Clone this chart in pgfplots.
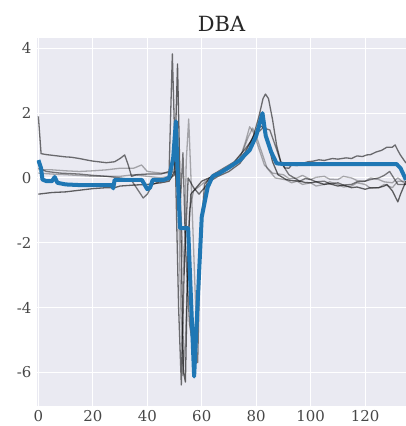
\documentclass[border=0pt]{standalone}
\usepackage{pgfplots}
\pgfplotsset{compat=1.18}
\usepackage{fontspec}
\setmainfont{DejaVu Serif}
\definecolor{bgc}{HTML}{EAEAF2}
\definecolor{dbablue}{HTML}{1F77B4}
\definecolor{txt}{HTML}{262626}
\begin{document}
\begin{tikzpicture}
\begin{axis}[
  name=ax,
  scale only axis, width=369bp, height=368bp,
  xmin=-0.5, xmax=135, ymin=-7.04, ymax=4.32,
  axis background/.style={fill=bgc},
  axis line style={draw=none},
  grid=major, major grid style={white, line width=1.1bp},
  xtick={0,20,...,120}, ytick={-6,-4,...,4},
  major tick length=0pt,
  tick label style={font=\fontsize{15}{17}\selectfont, text=txt!85},
  /pgf/number format/assume math mode=true,
  xticklabel style={yshift=-0.5bp},
  yticklabel style={xshift=-2bp},
  title={DBA}, title style={font=\fontsize{21}{24}\selectfont, text=txt, yshift=-3bp},
  clip=true,
]
% grey series
\addplot[black, opacity=0.55, line width=1.3bp, line join=round] coordinates {
(0,1.9)(1,0.75)(3,0.72)(5,0.7)(7,0.68)(10,0.65)(12,0.64)(15,0.6)(18,0.55)(20,0.52)(23,0.49)(25,0.47)(28,0.5)(30,0.6)(31.7,0.71)(33,0.4)(34.2,0.05)(36,0.1)(40,0.12)(45,0.12)(48,0.2)(49.2,3.83)(50.3,0.5)(51.5,-4)(52.5,-6.39)(53.5,-3)(55,0.0)(57,-0.3)(59,-0.5)(61,-0.3)(63,-0.1)(66,0.05)(70,0.2)(74,0.45)(77,0.8)(79,1.3)(81,1.9)(82.5,2.45)(83.4,2.59)(84.5,2.45)(86,1.8)(87.5,1.0)(89,0.5)(90.5,0.31)(92,0.3)(93,0.4)(95,0.38)(97,0.45)(99,0.5)(101,0.52)(103,0.56)(105,0.54)(108,0.6)(110,0.58)(113,0.62)(115,0.6)(117,0.68)(119,0.66)(120.6,0.71)(122,0.72)(124,0.8)(126,0.85)(128,0.95)(130,0.95)(131,1.02)(132,0.85)(133,0.7)(135,0.46)
};
\addplot[black, opacity=0.6, line width=1.3bp, line join=round] coordinates {
(0,-0.5)(5,-0.45)(10,-0.43)(15,-0.38)(20,-0.33)(25,-0.3)(28,-0.3)(30,-0.25)(35,-0.22)(40,-0.2)(45,-0.15)(48,-0.1)(50,0.2)(51.1,3.52)(52,0.0)(53.3,-6.0)(54,-6.3)(55,-2.0)(56,-0.5)(58,-0.3)(60,-0.1)(64,0.05)(68,0.2)(72,0.4)(76,0.8)(79,1.3)(81,1.55)(82,1.6)(83,1.5)(84,1.2)(86,0.5)(88,0.1)(91,-0.05)(93,-0.08)(96,-0.1)(98,-0.14)(100,-0.15)(102,-0.12)(105,-0.2)(107,-0.18)(110,-0.25)(112,-0.22)(115,-0.3)(117,-0.28)(120,-0.35)(122,-0.3)(125,-0.3)(127,-0.25)(128,-0.2)(130,-0.4)(132,-0.74)(133,-0.5)(134,-0.3)(135,-0.1)
};
\addplot[black, opacity=0.5, line width=1.3bp, line join=round] coordinates {
(0,0.3)(3,0.2)(8,0.15)(15,0.12)(20,0.08)(25,0.05)(30,0.0)(34,-0.05)(36,-0.3)(38.5,-0.62)(40,-0.5)(42,-0.2)(45,-0.1)(48,-0.05)(50,0.1)(51,0.3)(52,-1.0)(53.1,0.78)(54,-2)(55.5,-4.5)(57.5,-5.6)(58.5,-5.7)(59.5,-2.0)(61,-0.2)(64,0.1)(68,0.3)(72,0.5)(76,0.9)(80,1.35)(82.5,1.55)(85,1.48)(87,1.0)(89,0.5)(92,0.1)(94,0.0)(96,-0.1)(98,-0.02)(100,-0.05)(102,-0.12)(105,-0.1)(107,-0.18)(110,-0.15)(112,-0.22)(115,-0.2)(117,-0.12)(120,-0.1)(122,-0.05)(125,0.0)(127,0.08)(129,0.2)(130.5,0.0)(132,-0.2)(135,-0.2)
};
\addplot[black, opacity=0.3, line width=1.3bp, line join=round] coordinates {
(0,0.25)(5,0.25)(10,0.22)(15,0.2)(20,0.22)(25,0.25)(30,0.3)(35,0.3)(37.9,0.4)(40,0.2)(45,0.15)(48,0.15)(50,0.2)(52,-0.5)(53.5,-3.0)(54.3,0.5)(55.2,1.82)(56.5,-1.0)(58,-4.5)(59,-3)(60,-1.0)(62,-0.1)(66,0.1)(70,0.3)(74,0.6)(76,1.1)(77.6,1.58)(79,1.4)(81,0.9)(83,0.4)(86,0.15)(90,0.1)(92,-0.02)(95,0.0)(97,0.08)(100,-0.05)(102,0.02)(105,0.05)(107,-0.04)(110,-0.05)(112,0.05)(115,0.0)(117,-0.08)(120,-0.1)(122,0.0)(125,-0.05)(127,-0.12)(130,-0.15)(132,0.0)(135,-0.2)
};
\addplot[black, opacity=0.3, line width=1.3bp, line join=round] coordinates {
(0,0.15)(5,0.12)(10,0.1)(20,0.05)(30,0.05)(35,0.1)(40,0.05)(45,0.0)(48,0.05)(50,0.3)(51,1.5)(52,-3.0)(53,-6.1)(54,-5.0)(55.5,-1.0)(57,-0.4)(60,-0.2)(63,0.0)(67,0.2)(71,0.4)(75,0.8)(77,1.25)(78.7,1.54)(80,1.3)(82,0.8)(84,0.3)(87,0.0)(91,-0.06)(93,-0.15)(95,-0.1)(97,-0.2)(100,-0.15)(102,-0.25)(105,-0.2)(107,-0.12)(110,-0.2)(112,-0.28)(115,-0.25)(117,-0.15)(120,-0.2)(122,-0.32)(125,-0.3)(127,-0.2)(130,-0.3)(132,-0.1)(135,-0.1)
};
% DBA average
\addplot[dbablue, line width=4bp, line join=round] coordinates {
(0,0.55)(1,0.3)(1.5,-0.05)(3,-0.1)(5,-0.1)(6,0.03)(7,-0.15)(10,-0.2)(15,-0.22)(20,-0.22)(25,-0.22)(27,-0.22)(27.5,-0.32)(28,-0.06)(33,-0.06)(38,-0.06)(40,-0.35)(41,-0.3)(42,-0.06)(46,-0.06)(48,0.0)(49.5,0.6)(50.5,1.75)(51,0.5)(52,-1.55)(55,-1.55)(57.2,-6.13)(60,-1.2)(62.2,-0.28)(64,0.05)(66.6,0.15)(70.3,0.34)(74,0.55)(77.6,0.86)(80,1.3)(82.3,2.0)(83.5,1.3)(85.5,0.8)(87.5,0.45)(90,0.43)(131.5,0.43)(133,0.3)(135,-0.06)
};
\end{axis}
\path (ax.south west) ++(-37bp,-20bp) coordinate (a);
\path (ax.north east) ++(0bp,38bp) coordinate (b);
\pgfresetboundingbox
\path[use as bounding box] (a) rectangle (b);
\end{tikzpicture}
\end{document}
